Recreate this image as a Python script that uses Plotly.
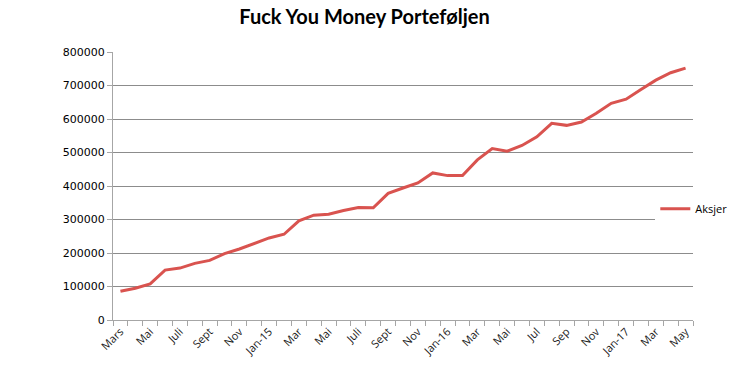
import plotly.graph_objects as go

tick_labels = ["Mars", "Mai", "Juli", "Sept", "Nov", "Jan-15", "Mar", "Mai", "Juli", "Sept",
               "Nov", "Jan-16", "Mar", "Mai", "Jul", "Sep", "Nov", "Jan-17", "Mar", "May"]
aksjer = [86000, 95000, 108000, 149000, 155000, 169000, 178000, 198000, 212000, 228000,
          245000, 256000, 296000, 313000, 316000, 327000, 336000, 335000, 378000, 394000,
          409000, 439000, 431000, 431000, 478000, 512000, 504000, 521000, 547000, 587000,
          581000, 591000, 617000, 647000, 659000, 688000, 716000, 738000, 752000]

x = list(range(len(aksjer)))
tickvals = x[::2]

fig = go.Figure()
fig.add_trace(go.Scatter(x=x, y=aksjer, mode="lines", name="Aksjer",
                         line=dict(color="#D9534F", width=3)))

fig.update_layout(
    width=729, height=368,
    margin=dict(l=113, r=36, t=52, b=48, autoexpand=False),
    paper_bgcolor="white", plot_bgcolor="white",
    title=dict(text="<b>Fuck You Money Porteføljen</b>", x=0.5, xanchor="center",
               y=0.955, yanchor="middle",
               font=dict(family="Lato", size=20, color="black")),
    legend=dict(x=0.935, y=0.415, xanchor="left", yanchor="middle", bgcolor="white",
                font=dict(family="Open Sans", size=11, color="black"),
                itemwidth=30, tracegroupgap=0),
    showlegend=True,
)
fig.update_xaxes(
    range=[-0.5, len(aksjer) - 0.5],
    tickmode="array", tickvals=tickvals, ticktext=tick_labels,
    tickangle=-45, ticks="", showgrid=False,
    showline=True, linecolor="#A6A6A6", linewidth=1,
    tickfont=dict(family="Open Sans", size=11, color="#1a1a1a"),
    minor=dict(tickmode="linear", tick0=-0.5, dtick=1, ticks="outside",
               ticklen=5, tickcolor="#A6A6A6", showgrid=False),
    zeroline=False, automargin=False,
)
fig.update_yaxes(
    range=[0, 800000], tickmode="linear", tick0=0, dtick=100000,
    tickformat="d", showgrid=True, gridcolor="#8C8C8C", gridwidth=1,
    showline=True, linecolor="#A6A6A6", linewidth=1,
    ticks="outside", ticklen=5, tickcolor="#A6A6A6",
    tickfont=dict(family="DejaVu Sans", size=11, color="black"),
    zeroline=False, automargin=False,
)

fig.write_html("out.html")
